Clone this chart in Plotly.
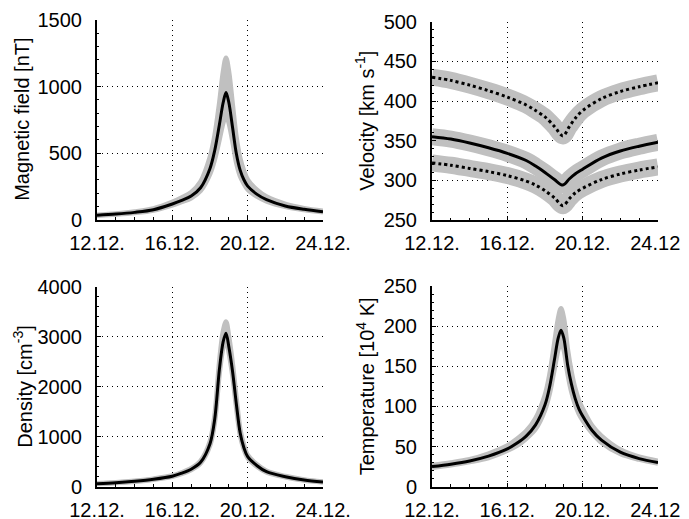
import plotly.graph_objects as go

# ---------------- data ----------------
DAYS = [12, 13, 14, 15, 16, 16.5, 17, 17.5, 18, 18.25, 18.5, 18.7, 18.85, 19.0,
        19.2, 19.4, 19.6, 19.8, 20, 20.5, 21, 22, 23, 24]

B_MEAN = [33, 42, 55, 75, 118, 145, 178, 240, 385, 520, 715, 880, 955, 880,
          690, 495, 372, 300, 252, 190, 150, 103, 78, 60]
B_UP = [35, 45, 60, 83, 132, 165, 205, 285, 470, 630, 875, 1110, 1215, 1110,
        860, 615, 460, 365, 300, 222, 172, 117, 85, 65]
B_LO = [31, 40, 52, 71, 110, 135, 163, 218, 345, 455, 605, 730, 785, 730,
        590, 430, 330, 272, 228, 175, 140, 98, 74, 57]

N_MEAN = [60, 80, 110, 150, 210, 270, 350, 490, 860, 1350, 2350, 2900, 3070, 2800,
          2300, 1650, 1080, 780, 600, 420, 300, 200, 133, 93]
N_UP = [62, 83, 114, 156, 218, 282, 366, 515, 905, 1420, 2500, 3110, 3300, 3000,
        2450, 1760, 1140, 825, 630, 440, 313, 208, 138, 97]
N_LO = [58, 77, 106, 145, 203, 261, 338, 473, 830, 1300, 2270, 2800, 2960, 2700,
        2220, 1590, 1040, 752, 580, 405, 290, 193, 128, 90]

T_MEAN = [25, 28, 32, 38, 47, 54, 63, 77, 102, 125, 158, 185, 195, 185,
          152, 128, 110, 97, 88, 70, 58, 43, 35, 30]
T_UP = [27, 30, 34, 41, 51, 59, 69, 85, 114, 140, 178, 209, 222, 209,
        171, 143, 122, 107, 97, 76, 63, 46, 37, 32]
T_LO = [24, 27, 31, 36, 45, 51, 60, 72, 96, 117, 147, 171, 180, 171,
        142, 119, 103, 91, 83, 67, 55, 41, 34, 29]

V_DAYS = [12, 13, 14, 15, 16, 17, 17.5, 18, 18.5, 18.95, 19.3, 19.6, 20, 21, 22, 23, 24]
V_MEAN = [355, 352, 347, 341, 334, 325, 318, 310, 301, 294, 302, 308, 314, 328, 337, 343, 348]
V_UPPER = [430, 426, 420, 413, 405, 395, 388, 380, 368, 356, 368, 378, 388, 403, 412, 418, 423]
V_LOWER = [322, 319, 315, 311, 306, 299, 294, 287, 278, 268, 277, 284, 290, 301, 308, 313, 317]

X_TICKS = [12, 16, 20, 24]
X_TICKTEXT = ["12.12.", "16.12.", "20.12.", "24.12."]

TITLES = ["Magnetic field [nT]", "Velocity [km s<sup>-1</sup>]",
          "Density [cm<sup>-3</sup>]", "Temperature [10<sup>4</sup> K]"]

# ---------------- styling ----------------
OFF = 8                      # page body margin of the html page
W, H = 689 - OFF, 519 - OFF  # figure size so that it fits the window
GRAY = "rgb(192,192,192)"
FONT = "Liberation Sans, Arial, Helvetica, sans-serif"
FS = 20
SM = 0.9

# panel pixel boxes in window coordinates: (left, right, top, bottom)
BOXES = [(97, 323, 20, 219.7), (432, 658, 21.7, 220),
         (97, 323, 286.7, 486.7), (432, 658, 286, 486.7)]
YRANGES = [(0, 1500, 500, 100), (250, 500, 50, 10), (0, 4000, 1000, 200), (0, 250, 50, 10)]
TITLE_X = [22, 365, 23, 365]

fig = go.Figure()


def ax_names(i):
    s = "" if i == 0 else str(i + 1)
    return "x" + s, "y" + s


def add_band(i, xs, up, lo):
    xa, ya = ax_names(i)
    fig.add_trace(go.Scatter(x=xs, y=up, mode="lines", xaxis=xa, yaxis=ya,
                             line=dict(color=GRAY, width=5, shape="spline", smoothing=SM),
                             showlegend=False, hoverinfo="skip"))
    fig.add_trace(go.Scatter(x=xs, y=lo, mode="lines", xaxis=xa, yaxis=ya,
                             line=dict(color=GRAY, width=5, shape="spline", smoothing=SM),
                             fill="tonexty", fillcolor=GRAY,
                             showlegend=False, hoverinfo="skip"))


def add_line(i, xs, ys, dash="solid", width=3):
    xa, ya = ax_names(i)
    fig.add_trace(go.Scatter(x=xs, y=ys, mode="lines", xaxis=xa, yaxis=ya,
                             line=dict(color="black", width=width, dash=dash,
                                       shape="spline", smoothing=SM),
                             showlegend=False))


# Magnetic field
add_band(0, DAYS, B_UP, B_LO)
add_line(0, DAYS, B_MEAN)

# Velocity: thick gray lines underneath each curve
for ys in (V_UPPER, V_MEAN, V_LOWER):
    xa, ya = ax_names(1)
    fig.add_trace(go.Scatter(x=V_DAYS, y=ys, mode="lines", xaxis=xa, yaxis=ya,
                             line=dict(color=GRAY, width=17, shape="spline", smoothing=SM),
                             showlegend=False, hoverinfo="skip"))
add_line(1, V_DAYS, V_UPPER, dash="3px,3px")
add_line(1, V_DAYS, V_MEAN)
add_line(1, V_DAYS, V_LOWER, dash="3px,3px")

# Density
add_band(2, DAYS, N_UP, N_LO)
add_line(2, DAYS, N_MEAN)

# Temperature
add_band(3, DAYS, T_UP, T_LO)
add_line(3, DAYS, T_MEAN)

layout = dict(template="none", width=W, height=H, autosize=False,
              margin=dict(l=0, r=0, t=0, b=0, pad=0, autoexpand=False),
              paper_bgcolor="white", plot_bgcolor="white",
              font=dict(family=FONT, size=FS, color="black"),
              showlegend=False)

annotations = []
for i, (l, r, t, b) in enumerate(BOXES):
    s = "" if i == 0 else str(i + 1)
    l, r, t, b = l - OFF, r - OFF, t - OFF, b - OFF
    dom_x = [l / W, r / W]
    dom_y = [1 - b / H, 1 - t / H]
    y0, y1, dt, mdt = YRANGES[i]
    layout["xaxis" + s] = dict(
        domain=dom_x, range=[12, 24], anchor="y" + s, automargin=False,
        tickmode="array", tickvals=X_TICKS, ticktext=X_TICKTEXT,
        ticks="inside", ticklen=4, tickwidth=1.2, tickcolor="black",
        ticklabelstandoff=4,
        showline=True, linecolor="black", linewidth=2, mirror=False,
        showgrid=True, gridcolor="black", gridwidth=1.2, griddash="1.3px,3.7px",
        zeroline=False,
        minor=dict(tickmode="linear", tick0=12, dtick=1, ticks="inside",
                   ticklen=2.5, tickwidth=1, tickcolor="black", showgrid=False),
        tickfont=dict(family=FONT, size=FS, color="black"),
        fixedrange=True,
    )
    layout["yaxis" + s] = dict(
        domain=dom_y, range=[y0, y1], anchor="x" + s, automargin=False,
        tickmode="linear", tick0=y0, dtick=dt,
        ticks="inside", ticklen=4, tickwidth=1.2, tickcolor="black",
        ticklabelstandoff=9,
        showline=True, linecolor="black", linewidth=2, mirror=False,
        showgrid=True, gridcolor="black", gridwidth=1.2, griddash="1.3px,3.7px",
        zeroline=False,
        minor=dict(tickmode="linear", tick0=y0, dtick=mdt, ticks="inside",
                   ticklen=2, tickwidth=1, tickcolor="black", showgrid=False),
        tickfont=dict(family=FONT, size=FS, color="black"),
        fixedrange=True,
    )
    annotations.append(dict(
        text=TITLES[i], xref="paper", yref="paper",
        x=(TITLE_X[i] - OFF) / W, y=1 - (t + b) / 2 / H,
        xanchor="center", yanchor="middle", textangle=-90, showarrow=False,
        font=dict(family=FONT, size=FS, color="black")))

layout["annotations"] = annotations
fig.update_layout(**layout)

fig.write_html("out.html")
